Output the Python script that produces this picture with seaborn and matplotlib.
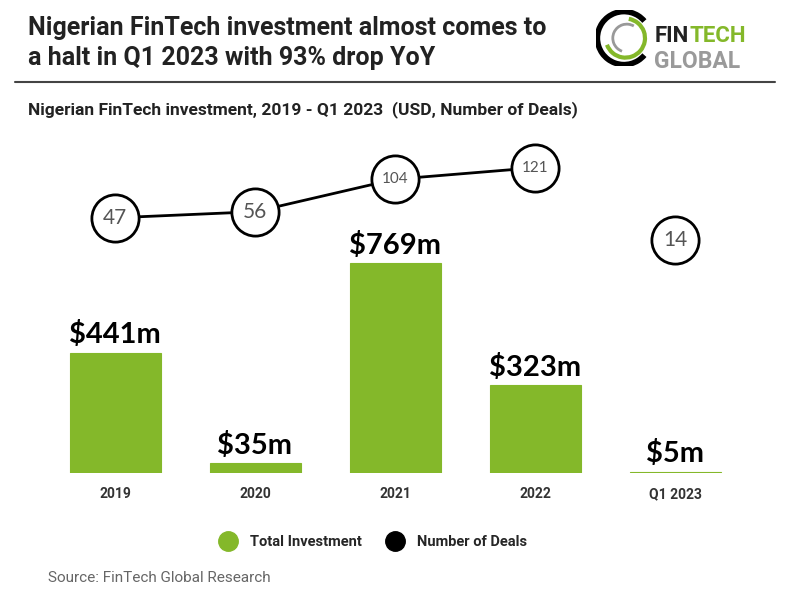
import seaborn as sns
import matplotlib.pyplot as plt
import numpy as np
import pandas as pd
from matplotlib.lines import Line2D
from matplotlib.patches import Arc

periods = ["2019", "2020", "2021", "2022", "Q1 2023"]
investment = [441, 35, 769, 323, 5]
deals = [47, 56, 104, 121, 14]
bar_labels = ["$441m", "$35m", "$769m", "$323m", "$5m"]

green = "#84B82A"

sns.set_theme(style="white")
plt.rcParams['font.family'] = ['Lato', 'DejaVu Sans']
head_font = ["Roboto", "DejaVu Sans"]

df = pd.DataFrame({"Period": periods, "Investment": investment, "Deals": deals})

fig = plt.figure(figsize=(8, 6), dpi=100)
ax = fig.add_axes([0.05625, 0.2117, 0.875, 0.555])

sns.barplot(data=df, x="Period", y="Investment", color=green, width=0.65,
            saturation=1, edgecolor=green, linewidth=0.8, ax=ax)
ax.set_ylim(0, 1220)
ax.set_xlim(-0.5, 4.5)
ax.set_xlabel("")
ax.set_ylabel("")
ax.set_yticks([])
ax.tick_params(axis="x", length=0, pad=10)
for lab in ax.get_xticklabels():
    lab.set_fontsize(10)
    lab.set_fontweight("bold")
    lab.set_color("#333333")
    lab.set_family(head_font)
for s in ax.spines.values():
    s.set_visible(False)

for i, (v, t) in enumerate(zip(investment, bar_labels)):
    ax.annotate(t, (i, v), xytext=(0, 3), textcoords="offset points",
                ha="center", va="bottom", fontsize=21, fontweight="bold",
                color="black")

# number of deals on a twin axis
ax2 = ax.twinx()
ax2.set_ylim(-330, 162)
ax2.set_yticks([])
for s in ax2.spines.values():
    s.set_visible(False)
pos = np.arange(len(periods))
sns.lineplot(x=pos[:4], y=deals[:4], color="black", linewidth=2, ax=ax2,
             marker="o", markersize=34, markerfacecolor="white",
             markeredgecolor="black", markeredgewidth=2)
ax2.plot(pos[4:], deals[4:], marker="o", markersize=34, markerfacecolor="white",
         markeredgecolor="black", markeredgewidth=2, linestyle="none")
for i, d in enumerate(deals):
    fs = 11 if d >= 100 else 15
    ax2.text(i, d, str(d), ha="center", va="center", fontsize=fs, color="#555555")

# header
fig.text(0.035, 0.953, "Nigerian FinTech investment almost comes to",
         fontsize=18, fontweight="bold", color="#222222", va="center", family=head_font)
fig.text(0.035, 0.903, "a halt in Q1 2023 with 93% drop YoY",
         fontsize=18, fontweight="bold", color="#222222", va="center", family=head_font)
fig.add_artist(Line2D([0.019, 0.969], [0.863, 0.863], color="#444444", linewidth=1.5))
fig.text(0.035, 0.817, "Nigerian FinTech investment, 2019 - Q1 2023  (USD, Number of Deals)",
         fontsize=12.5, fontweight="bold", color="#222222", va="center", family=head_font)

# logo
lax = fig.add_axes([0.745, 0.89, 0.07, 0.093])
lax.set_xlim(-1, 1)
lax.set_ylim(-1, 1)
lax.axis("off")
lax.add_patch(Arc((0, 0), 1.9, 1.9, theta1=40, theta2=320, color="black", linewidth=4))
lax.add_patch(Arc((0.05, 0), 1.4, 1.4, theta1=200, theta2=80, color=green, linewidth=3))
lax.add_patch(Arc((0.1, 0), 1.0, 1.0, theta1=60, theta2=250, color="#999999", linewidth=2))
fin = fig.text(0.818, 0.93, "FIN", fontsize=16, fontweight="bold", color="#222222",
               va="baseline", family=head_font)
renderer = fig.canvas.get_renderer()
bb = fin.get_window_extent(renderer)
fig.text(bb.x1 / 800 + 0.001, 0.93, "TECH", fontsize=16, fontweight="bold", color=green,
         va="baseline", family=head_font)
fig.text(0.818, 0.886, "GLOBAL", fontsize=16.5, fontweight="bold", color="#9a9a9a",
         va="baseline", family=head_font)

# legend
handles = [Line2D([], [], marker="o", linestyle="none", markersize=14, color=green),
           Line2D([], [], marker="o", linestyle="none", markersize=14, color="black")]
fig.legend(handles, ["Total Investment", "Number of Deals"], loc="center",
           bbox_to_anchor=(0.463, 0.097), ncol=2, frameon=False,
           handletextpad=0.5, columnspacing=1.3,
           prop={"family": head_font, "weight": "bold", "size": 10.5})

fig.text(0.06, 0.037, "Source: FinTech Global Research", fontsize=11,
         color="#666666", va="center", family=head_font)

fig.savefig("out.png", dpi=100, facecolor="white")
